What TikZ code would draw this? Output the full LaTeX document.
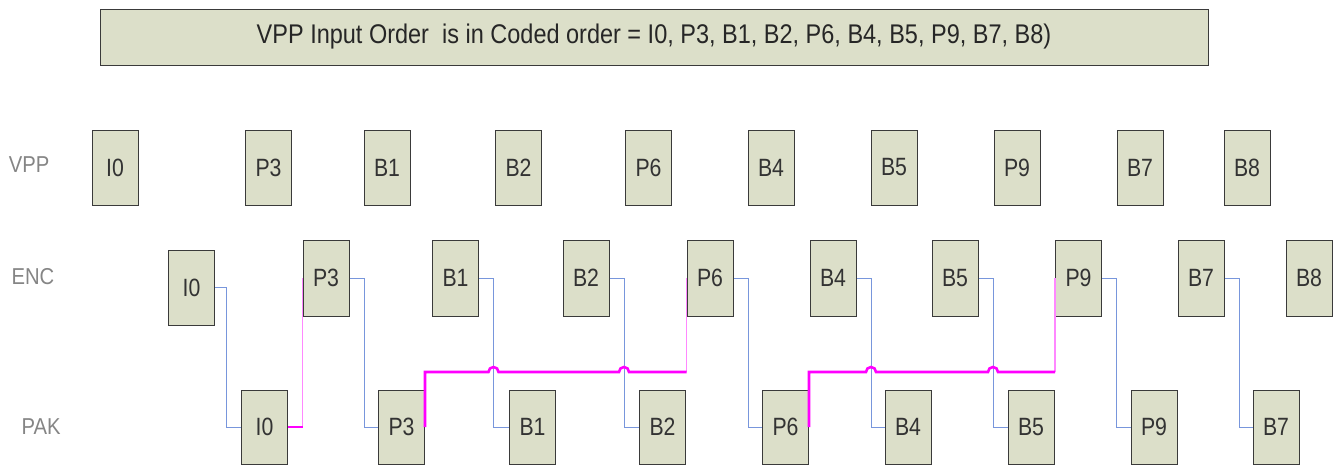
\documentclass[tikz,border=0pt]{standalone}
\usepackage{fontspec}
\setmainfont{Liberation Sans}
\newfontfamily\narrowfont[FakeStretch=0.85]{Liberation Sans}
\newfontfamily\titlefont[FakeStretch=0.87]{Liberation Sans}
\newfontfamily\labelfont[FakeStretch=0.88]{Liberation Sans}
\usetikzlibrary{calc}
\definecolor{boxfill}{HTML}{DCDFC9}
\definecolor{boxdraw}{HTML}{3A3A3A}
\definecolor{bline}{HTML}{7896DC}
\definecolor{mag}{HTML}{FF00FF}
\definecolor{lmag}{HTML}{FF88FF}
\definecolor{lbl}{HTML}{858585}
\tikzset{
  frame/.style={draw=boxdraw, line width=1pt, fill=boxfill, inner sep=0pt,
    minimum width=46pt, minimum height=75pt, font=\narrowfont\fontsize{25}{27}\selectfont, text=black!80},
  titlebox/.style={draw=boxdraw, line width=1pt, fill=boxfill, inner sep=0pt,
    minimum width=1108pt, minimum height=56pt, font=\titlefont\fontsize{27}{29}\selectfont, text=black!85},
  rowlabel/.style={font=\labelfont\fontsize{23}{25}\selectfont, text=lbl},
  blueline/.style={draw=bline, line width=0.9pt},
  magthick/.style={draw=mag, line width=2.6pt},
  magthin/.style={draw=lmag, line width=1.3pt},
}
\begin{document}
\begin{tikzpicture}[x=1pt,y=-1pt]
\useasboundingbox (0,0) rectangle (1334,466);
\node[titlebox] (title) at (654,37) {VPP Input Order\ \ is in Coded order = I0, P3, B1, B2, P6, B4, B5, P9, B7, B8)};

\node[rowlabel] (lvpp) at (29,165) {VPP};
\node[rowlabel] (lenc) at (33,277) {ENC};
\node[rowlabel] (lpak) at (41,427) {PAK};

% VPP row
\foreach \n/\x in {I0/115, P3/268.5, B1/387, B2/518.5, P6/648.5, B4/771, B5/894, P9/1017, B7/1140, B8/1247}
  \node[frame] (v\n) at (\x,167.5) {\n};

% ENC row
\node[frame] (eI0) at (191.5,287.5) {I0};
\foreach \n/\x in {P3/326, B1/455.5, B2/586, P6/710, B4/833, B5/955, P9/1078.5, B7/1201, B8/1309}
  \node[frame, minimum height=76pt] (e\n) at (\x,278) {\n};

% PAK row
\foreach \n/\x in {I0/264.5, P3/401.5, B1/532.5, B2/662.5, P6/785.5, B4/908, B5/1031, P9/1154, B7/1276}
  \node[frame, minimum height=74pt] (p\n) at (\x,427) {\n};

% blue connectors ENC -> PAK
\draw[blueline] (eI0.east) -- ++(11,0) coordinate (kI0) |- (pI0.west);
\foreach \n in {P3,B1,B2,P6,B4,B5,P9,B7}
  \draw[blueline] (e\n.east) -- ++(14.5,0) coordinate (k\n) |- (p\n.west);

\coordinate (hy) at (0,372);

% magenta path 1
\draw[magthin] (eP3.west |- pI0.east) -- (eP3.west);
\draw[magthick] (pI0.east) -- (eP3.west |- pI0.east);

% magenta path 2
\draw[magthin] (eP6.west |- hy) -- (eP6.west);
\draw[magthick] (pP3.east) -- (pP3.east |- hy)
  -- ([xshift=-5pt]kB1 |- hy) arc[start angle=180, end angle=0, radius=5pt]
  -- ([xshift=-5pt]kB2 |- hy) arc[start angle=180, end angle=0, radius=5pt]
  -- (eP6.west |- hy);

% magenta path 3
\draw[magthin] (eP9.west |- hy) -- (eP9.west);
\draw[magthick] (pP6.east) -- (pP6.east |- hy)
  -- ([xshift=-5pt]kB4 |- hy) arc[start angle=180, end angle=0, radius=5pt]
  -- ([xshift=-5pt]kB5 |- hy) arc[start angle=180, end angle=0, radius=5pt]
  -- (eP9.west |- hy);
\end{tikzpicture}
\end{document}
